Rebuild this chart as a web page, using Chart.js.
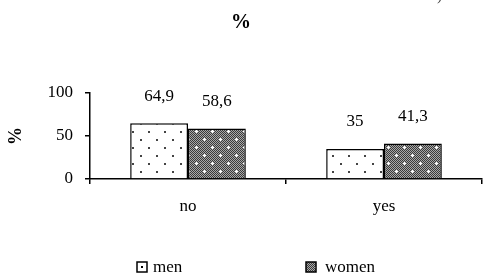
<!DOCTYPE html>
<html>
<head>
<meta charset="utf-8">
<script src="https://cdn.jsdelivr.net/npm/chart.js@4/dist/chart.umd.min.js"></script>
<style>
  html, body { margin: 0; padding: 0; background: #fff; }
  #wrap { width: 483px; height: 274px; position: relative; }
</style>
</head>
<body>
<div id="wrap"><canvas id="c" width="483" height="274"></canvas></div>
<script>
const categories = ['no', 'yes'];
const seriesNames = ['men', 'women'];
const menValues = [64.9, 35];
const womenValues = [58.6, 41.3];
const yTickValues = [0, 50, 100];
const chartTitle = '%';
const yAxisTitle = '%';

const SERIF = '"Liberation Serif", "Times New Roman", serif';

function makeMenPattern() {
  const t = document.createElement('canvas');
  t.width = 16; t.height = 16;
  const g = t.getContext('2d');
  g.fillStyle = '#ffffff';
  g.fillRect(0, 0, 16, 16);
  g.fillStyle = '#444444';
  g.fillRect(4, 3, 2, 2);
  g.fillRect(12, 11, 2, 2);
  return g.createPattern(t, 'repeat');
}
function makeWomenPattern() {
  const t = document.createElement('canvas');
  t.width = 16; t.height = 16;
  const g = t.getContext('2d');
  for (let y = 0; y < 16; y++) {
    for (let x = 0; x < 16; x++) {
      g.fillStyle = ((x + y) % 2 === 0) ? '#3a3a3a' : '#a8a8a8';
      g.fillRect(x, y, 1, 1);
    }
  }
  g.fillStyle = '#ffffff';
  [[4, 3], [12, 11]].forEach(([x, y]) => {
    g.fillRect(x - 1, y, 3, 1);
    g.fillRect(x, y - 1, 1, 3);
  });
  return g.createPattern(t, 'repeat');
}
const menFill = makeMenPattern();
const womenFill = makeWomenPattern();

const fmt = v => String(v).replace('.', ',');

const valueLabels = {
  id: 'valueLabels',
  afterDatasetsDraw(chart) {
    const ctx = chart.ctx;
    ctx.save();
    ctx.font = '17px ' + SERIF;
    ctx.fillStyle = '#000';
    ctx.textAlign = 'center';
    ctx.textBaseline = 'middle';
    chart.data.datasets.forEach((ds, i) => {
      chart.getDatasetMeta(i).data.forEach((bar, j) => {
        ctx.fillText(fmt(ds.data[j]), bar.x, bar.y - 27);
      });
    });
    ctx.restore();
  }
};

const customLegend = {
  id: 'customLegend',
  afterDraw(chart) {
    const ctx = chart.ctx;
    const items = [
      { box: 137, text: 153, fill: menFill, dot: true },
      { box: 306, text: 325, fill: womenFill, dot: false }
    ];
    ctx.save();
    items.forEach((it, i) => {
      ctx.fillStyle = it.dot ? '#fff' : it.fill;
      ctx.fillRect(it.box, 262, 10, 10);
      if (it.dot) { ctx.fillStyle = '#000'; ctx.fillRect(it.box + 4, 266, 2, 2); }
      ctx.strokeStyle = '#000';
      ctx.lineWidth = 1.5;
      ctx.strokeRect(it.box, 262, 10, 10);
      ctx.fillStyle = '#000';
      ctx.font = '17px ' + SERIF;
      ctx.textAlign = 'left';
      ctx.textBaseline = 'alphabetic';
      ctx.fillText(chart.data.datasets[i].label, it.text, 272);
    });
    ctx.fillStyle = '#444';
    ctx.font = '16px ' + SERIF;
    ctx.fillText(')', 437, 0);
    ctx.restore();
  }
};

new Chart(document.getElementById('c'), {
  type: 'bar',
  data: {
    labels: categories,
    datasets: [
      { label: seriesNames[0], data: menValues, backgroundColor: menFill, borderColor: '#000', borderWidth: 1.5 },
      { label: seriesNames[1], data: womenValues, backgroundColor: womenFill, borderColor: '#000', borderWidth: 1.5 }
    ]
  },
  options: {
    responsive: false,
    animation: false,
    devicePixelRatio: 1,
    layout: { padding: { top: 0, left: 0, right: 1, bottom: 0 } },
    datasets: { bar: { categoryPercentage: 0.59, barPercentage: 1.0 } },
    plugins: {
      legend: { display: false },
      tooltip: { enabled: false },
      title: {
        display: true,
        text: chartTitle,
        color: '#000',
        font: { family: SERIF, size: 20, weight: 'bold', lineHeight: 1.2 },
        padding: { top: 11, bottom: 58 }
      }
    },
    scales: {
      x: {
        offset: true,
        grid: { display: true, drawOnChartArea: false, drawTicks: true, tickLength: 5, tickColor: '#000', lineWidth: 1.5, offset: true },
        border: { display: true, color: '#000', width: 1.5 },
        ticks: { color: '#000', font: { family: SERIF, size: 17 }, padding: 12 },
        afterFit(s) { s.height = 95; }
      },
      y: {
        min: 0,
        max: 100,
        afterBuildTicks(s) { s.ticks = yTickValues.map(v => ({ value: v })); },
        grid: { display: true, drawOnChartArea: false, drawTicks: true, tickLength: 5, tickColor: '#000', lineWidth: 1.5 },
        border: { display: true, color: '#000', width: 1.5 },
        ticks: { color: '#000', font: { family: SERIF, size: 17 }, padding: 12 },
        title: {
          display: true,
          text: yAxisTitle,
          color: '#000',
          font: { family: SERIF, size: 18, weight: 'bold', lineHeight: 1.2 },
          padding: { top: 6, bottom: 0 }
        },
        afterFit(s) { s.width = 90; }
      }
    }
  },
  plugins: [valueLabels, customLegend]
});
</script>
</body>
</html>
